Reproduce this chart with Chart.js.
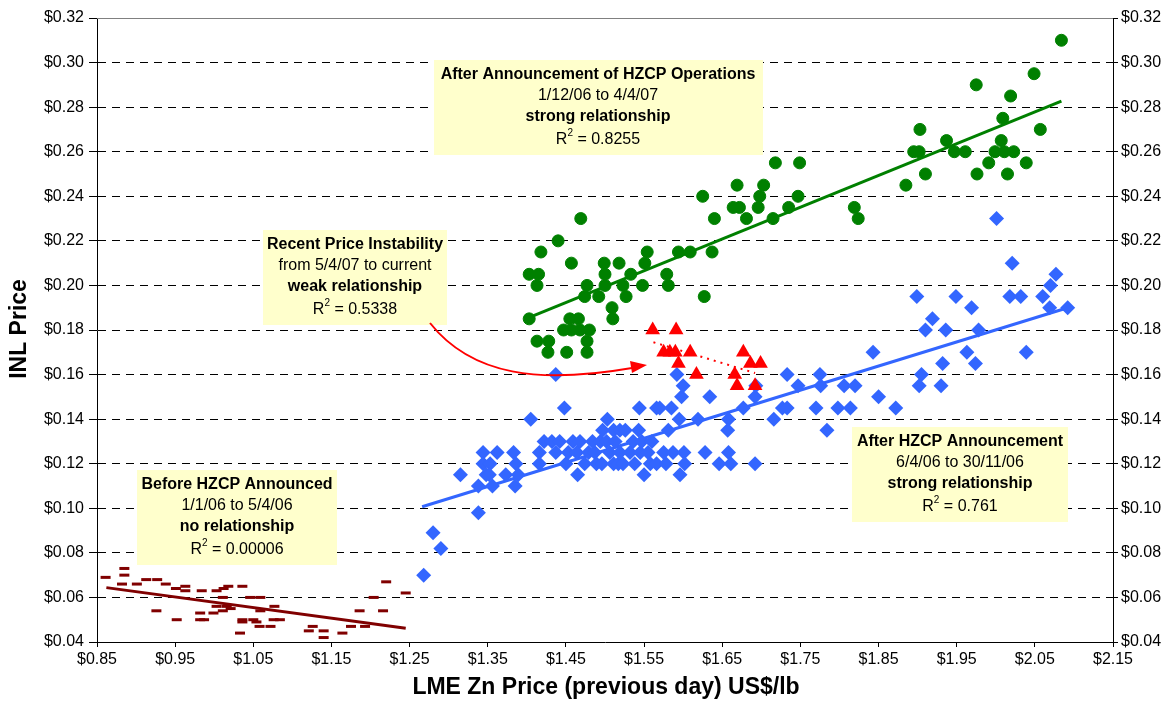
<!DOCTYPE html>
<html>
<head>
<meta charset="utf-8">
<script src="https://cdn.jsdelivr.net/npm/chart.js@4.4.1/dist/chart.umd.min.js"></script>
<style>
  html, body { margin: 0; padding: 0; background: #fff; }
  #wrap { width: 1173px; height: 713px; }
</style>
</head>
<body>
<div id="wrap"><canvas id="zinc" width="1173" height="713"></canvas></div>
<script>
// tick labels
const xTicks = [0.85, 0.95, 1.05, 1.15, 1.25, 1.35, 1.45, 1.55, 1.65, 1.75, 1.85, 1.95, 2.05, 2.15];
const yTicks = [0.04, 0.06, 0.08, 0.10, 0.12, 0.14, 0.16, 0.18, 0.20, 0.22, 0.24, 0.26, 0.28, 0.30, 0.32];

// Before HZCP Announced (1/1/06 to 5/4/06)
const beforeX = [0.861, 0.885, 0.885, 0.882, 0.901, 0.913, 0.927, 0.926, 0.938, 0.952, 0.951, 0.963, 0.963,
  0.982, 0.982, 0.987, 0.984, 0.999, 1.003, 1.003, 1.011, 1.012, 1.018, 1.011, 1.016, 1.021, 1.036, 1.033,
  1.036, 1.036, 1.050, 1.054, 1.046, 1.059, 1.059, 1.058, 1.072, 1.077, 1.076, 1.084, 1.126, 1.121, 1.140,
  1.140, 1.164, 1.175, 1.186, 1.193, 1.204, 1.216, 1.220, 1.245];
const beforeY = [0.069, 0.073, 0.070, 0.066, 0.066, 0.068, 0.068, 0.054, 0.066, 0.050, 0.064, 0.065, 0.063,
  0.053, 0.050, 0.050, 0.063, 0.053, 0.056, 0.063, 0.060, 0.064, 0.065, 0.054, 0.056, 0.055, 0.065, 0.044,
  0.049, 0.050, 0.050, 0.049, 0.060, 0.060, 0.054, 0.047, 0.047, 0.056, 0.050, 0.050, 0.047, 0.045, 0.045,
  0.042, 0.044, 0.047, 0.054, 0.047, 0.060, 0.054, 0.067, 0.062];

// After HZCP Announcement (6/4/06 to 30/11/06)
const afterX = [1.268, 1.280, 1.290, 1.338, 1.315, 1.338, 1.344, 1.344, 1.353, 1.348, 1.352, 1.356, 1.362,
  1.373, 1.383, 1.386, 1.385, 1.389, 1.405, 1.416, 1.416, 1.422, 1.432, 1.442, 1.437, 1.437, 1.448, 1.450,
  1.453, 1.459, 1.468, 1.465, 1.464, 1.474, 1.479, 1.487, 1.484, 1.494, 1.502, 1.489, 1.496, 1.497, 1.503,
  1.506, 1.511, 1.519, 1.526, 1.511, 1.517, 1.523, 1.513, 1.519, 1.532, 1.536, 1.538, 1.543, 1.544, 1.545,
  1.555, 1.550, 1.547, 1.560, 1.558, 1.566, 1.578, 1.566, 1.570, 1.585, 1.575, 1.587, 1.601, 1.581, 1.595,
  1.596, 1.602, 1.598, 1.600, 1.592, 1.619, 1.628, 1.634, 1.646, 1.658, 1.658, 1.657, 1.661, 1.677, 1.692,
  1.692, 1.693, 1.716, 1.727, 1.733, 1.733, 1.747, 1.770, 1.775, 1.776, 1.784, 1.798, 1.806, 1.814, 1.820,
  1.843, 1.850, 1.872, 1.899, 1.905, 1.902, 1.910, 1.919, 1.930, 1.932, 1.936, 1.949, 1.963, 1.969, 1.974,
  1.978, 2.001, 2.018, 2.021, 2.032, 2.039, 2.060, 2.069, 2.070, 2.077, 2.092];
const afterY = [0.070, 0.089, 0.082, 0.098, 0.115, 0.110, 0.125, 0.120, 0.120, 0.115, 0.115, 0.110, 0.125,
  0.115, 0.125, 0.120, 0.110, 0.115, 0.140, 0.125, 0.120, 0.130, 0.130, 0.130, 0.125, 0.160, 0.145, 0.120,
  0.125, 0.130, 0.130, 0.115, 0.125, 0.120, 0.125, 0.125, 0.130, 0.130, 0.130, 0.120, 0.120, 0.135, 0.140,
  0.125, 0.135, 0.135, 0.135, 0.120, 0.120, 0.120, 0.130, 0.125, 0.125, 0.130, 0.120, 0.135, 0.145, 0.125,
  0.125, 0.115, 0.130, 0.130, 0.120, 0.120, 0.120, 0.145, 0.145, 0.145, 0.125, 0.125, 0.125, 0.135, 0.140,
  0.115, 0.120, 0.150, 0.155, 0.160, 0.140, 0.125, 0.150, 0.120, 0.125, 0.140, 0.135, 0.120, 0.145, 0.120,
  0.150, 0.155, 0.140, 0.145, 0.145, 0.160, 0.155, 0.145, 0.160, 0.155, 0.135, 0.145, 0.155, 0.145, 0.155,
  0.170, 0.150, 0.145, 0.195, 0.160, 0.155, 0.180, 0.185, 0.155, 0.165, 0.180, 0.195, 0.170, 0.190, 0.165,
  0.180, 0.230, 0.195, 0.210, 0.195, 0.170, 0.195, 0.190, 0.200, 0.205, 0.190];

// After Announcement of HZCP Operations (1/12/06 to 4/4/07)
const opsX = [1.403, 1.403, 1.415, 1.413, 1.418, 1.413, 1.428, 1.427, 1.440, 1.451, 1.457, 1.469, 1.447,
  1.457, 1.468, 1.480, 1.455, 1.466, 1.477, 1.477, 1.477, 1.474, 1.492, 1.499, 1.500, 1.500, 1.509, 1.510,
  1.518, 1.523, 1.527, 1.533, 1.548, 1.551, 1.554, 1.579, 1.581, 1.594, 1.609, 1.627, 1.637, 1.625, 1.640,
  1.664, 1.672, 1.669, 1.681, 1.696, 1.698, 1.703, 1.715, 1.735, 1.747, 1.718, 1.749, 1.819, 1.824, 1.885,
  1.895, 1.902, 1.903, 1.910, 1.937, 1.947, 1.961, 1.975, 1.976, 1.991, 1.999, 2.007, 2.009, 2.011, 2.015,
  2.019, 2.023, 2.039, 2.049, 2.057, 2.084];
const opsY = [0.185, 0.205, 0.205, 0.200, 0.215, 0.175, 0.175, 0.170, 0.220, 0.170, 0.210, 0.230, 0.180,
  0.180, 0.180, 0.180, 0.185, 0.185, 0.175, 0.170, 0.200, 0.195, 0.195, 0.210, 0.205, 0.200, 0.190, 0.185,
  0.210, 0.200, 0.195, 0.205, 0.200, 0.210, 0.215, 0.205, 0.200, 0.215, 0.215, 0.195, 0.215, 0.240, 0.230,
  0.235, 0.235, 0.245, 0.230, 0.235, 0.240, 0.245, 0.230, 0.235, 0.240, 0.255, 0.255, 0.235, 0.230, 0.245,
  0.260, 0.260, 0.270, 0.250, 0.265, 0.260, 0.260, 0.290, 0.250, 0.255, 0.260, 0.265, 0.275, 0.260, 0.250,
  0.285, 0.260, 0.255, 0.295, 0.270, 0.310];

// Recent Price Instability (5/4/07 to current)
const recentX = [1.561, 1.591, 1.575, 1.583, 1.590, 1.609, 1.594, 1.617, 1.677, 1.686, 1.699, 1.666, 1.669, 1.692];
const recentY = [0.180, 0.180, 0.170, 0.170, 0.170, 0.170, 0.165, 0.160, 0.170, 0.165, 0.165, 0.160, 0.155, 0.155];

// linear trend end points
const beforeTrendX = [0.862, 1.245];
const beforeTrendY = [0.0644, 0.0462];
const afterTrendX = [1.266, 2.092];
const afterTrendY = [0.1007, 0.1900];
const opsTrendX = [1.408, 2.084];
const opsTrendY = [0.1863, 0.2827];
const recentTrendX = [1.562, 1.692];
const recentTrendY = [0.1745, 0.1607];

const pts = (xs, ys) => xs.map((x, i) => ({ x: x, y: ys[i] }));

const DARKRED = '#800000';
const BLUE = '#3366FF';
const GREEN = '#008000';
const RED = '#FF0000';

const notes = [
  { box: [434, 60, 763, 155], cx: 598, lines: [['After Announcement of HZCP Operations', true], ['1/12/06 to 4/4/07', false], ['strong relationship', true]], r2: '0.8255' },
  { box: [263, 230, 447, 325], cx: 355, lines: [['Recent Price Instability', true], ['from 5/4/07 to current', false], ['weak relationship', true]], r2: '0.5338' },
  { box: [137, 470, 337, 565], cx: 237, lines: [['Before HZCP Announced', true], ['1/1/06 to 5/4/06', false], ['no relationship', true]], r2: '0.00006' },
  { box: [852, 427, 1068, 522], cx: 960, lines: [['After HZCP Announcement', true], ['6/4/06 to 30/11/06', false], ['strong relationship', true]], r2: '0.761' }
];

const FONT = 'Arial, "Liberation Sans", sans-serif';

const decor = {
  id: 'decor',
  afterDraw(chart) {
    const ctx = chart.ctx;
    const area = chart.chartArea;
    ctx.save();
    // top border
    ctx.strokeStyle = '#808080';
    ctx.lineWidth = 1;
    ctx.beginPath();
    ctx.moveTo(area.left, area.top + 0.5);
    ctx.lineTo(area.right, area.top + 0.5);
    ctx.stroke();

    // text boxes
    notes.forEach(n => {
      const [l, t, r, b] = n.box;
      ctx.fillStyle = '#FFFFCC';
      ctx.fillRect(l, t, r - l, b - t);
      ctx.fillStyle = '#000';
      ctx.textAlign = 'center';
      ctx.textBaseline = 'middle';
      n.lines.forEach((ln, i) => {
        ctx.font = (ln[1] ? 'bold ' : '') + '16px ' + FONT;
        ctx.fillText(ln[0], n.cx, t + 15 + i * 21);
      });
      // R² line
      const y = t + 80;
      ctx.font = '16px ' + FONT;
      const wR = ctx.measureText('R').width;
      const rest = ' = ' + n.r2;
      const wRest = ctx.measureText(rest).width;
      ctx.font = '10px ' + FONT;
      const w2 = ctx.measureText('2').width;
      const x0 = n.cx - (wR + w2 + wRest) / 2;
      ctx.textAlign = 'left';
      ctx.font = '16px ' + FONT;
      ctx.fillText('R', x0, y);
      ctx.fillText(rest, x0 + wR + w2, y);
      ctx.font = '10px ' + FONT;
      ctx.fillText('2', x0 + wR, y - 7);
    });

    // red arrow
    ctx.strokeStyle = RED;
    ctx.lineWidth = 2;
    ctx.beginPath();
    ctx.moveTo(430, 323);
    ctx.bezierCurveTo(472, 376, 540, 384, 632, 368);
    ctx.stroke();
    ctx.fillStyle = RED;
    ctx.beginPath();
    ctx.moveTo(647, 365);
    ctx.lineTo(630, 361);
    ctx.lineTo(632, 373);
    ctx.closePath();
    ctx.fill();

    // axis titles
    ctx.fillStyle = '#000';
    ctx.font = 'bold 23px ' + FONT;
    ctx.textAlign = 'center';
    ctx.textBaseline = 'middle';
    ctx.fillText('LME Zn Price (previous day) US$/lb', 606, 688);
    ctx.translate(20, 329);
    ctx.rotate(-Math.PI / 2);
    ctx.fillText('INL Price', 0, 0);
    ctx.restore();
  }
};

const money = v => '$' + Number(v).toFixed(2);
const setTicks = list => scale => { scale.ticks = list.map(v => ({ value: v })); };

new Chart(document.getElementById('zinc'), {
  type: 'scatter',
  data: {
    datasets: [
      { label: 'Recent', data: pts(recentX, recentY), pointStyle: 'triangle', pointRadius: 8.5,
        backgroundColor: RED, borderColor: RED, borderWidth: 0, order: 1 },
      { label: 'Recent trend', data: pts(recentTrendX, recentTrendY), showLine: true, pointRadius: 0,
        borderColor: RED, borderWidth: 2, borderDash: [2, 5], order: 2 },
      { label: 'Operations', data: pts(opsX, opsY), pointStyle: 'circle', pointRadius: 6,
        backgroundColor: GREEN, borderColor: GREEN, borderWidth: 1, order: 3 },
      { label: 'Operations trend', data: pts(opsTrendX, opsTrendY), showLine: true, pointRadius: 0,
        borderColor: GREEN, borderWidth: 3, order: 4 },
      { label: 'After', data: pts(afterX, afterY), pointStyle: 'rectRot', pointRadius: 7.5,
        backgroundColor: BLUE, borderColor: BLUE, borderWidth: 0, order: 5 },
      { label: 'After trend', data: pts(afterTrendX, afterTrendY), showLine: true, pointRadius: 0,
        borderColor: BLUE, borderWidth: 3, order: 6 },
      { label: 'Before', data: pts(beforeX, beforeY), pointStyle: 'line', pointRadius: 5,
        backgroundColor: DARKRED, borderColor: DARKRED, borderWidth: 3, order: 7 },
      { label: 'Before trend', data: pts(beforeTrendX, beforeTrendY), showLine: true, pointRadius: 0,
        borderColor: DARKRED, borderWidth: 3, order: 8 }
    ]
  },
  options: {
    responsive: false,
    animation: false,
    layout: { padding: { top: 18, left: 0, right: 0, bottom: 0 } },
    plugins: { legend: { display: false }, tooltip: { enabled: false } },
    elements: { point: { hoverRadius: 0 } },
    scales: {
      x: {
        type: 'linear', min: 0.85, max: 2.15,
        afterBuildTicks: setTicks(xTicks),
        afterFit: s => { s.height = 71; },
        grid: { drawOnChartArea: false, tickLength: 5, tickColor: '#000' },
        border: { color: '#000', width: 1 },
        ticks: { color: '#000', font: { size: 16, family: FONT }, padding: 3, maxRotation: 0, autoSkip: false, callback: money }
      },
      y: {
        type: 'linear', position: 'left', min: 0.04, max: 0.32,
        afterBuildTicks: setTicks(yTicks),
        afterFit: s => { s.width = 97; },
        grid: {
          color: c => (c.tick && (c.tick.value === 0.32 || c.tick.value === 0.04)) ? 'rgba(0,0,0,0)' : '#000',
          tickLength: 8, tickColor: '#000', lineWidth: 1
        },
        border: { color: '#000', width: 1, dash: [8, 6] },
        ticks: { color: '#000', font: { size: 16, family: FONT }, padding: 5, autoSkip: false, callback: money }
      },
      y2: {
        type: 'linear', position: 'right', min: 0.04, max: 0.32,
        afterBuildTicks: setTicks(yTicks),
        afterFit: s => { s.width = 60; },
        grid: { drawOnChartArea: false, tickLength: 5, tickColor: '#000' },
        border: { color: '#000', width: 1 },
        ticks: { color: '#000', font: { size: 16, family: FONT }, padding: 3, autoSkip: false, callback: money }
      }
    }
  },
  plugins: [decor]
});
</script>
</body>
</html>
